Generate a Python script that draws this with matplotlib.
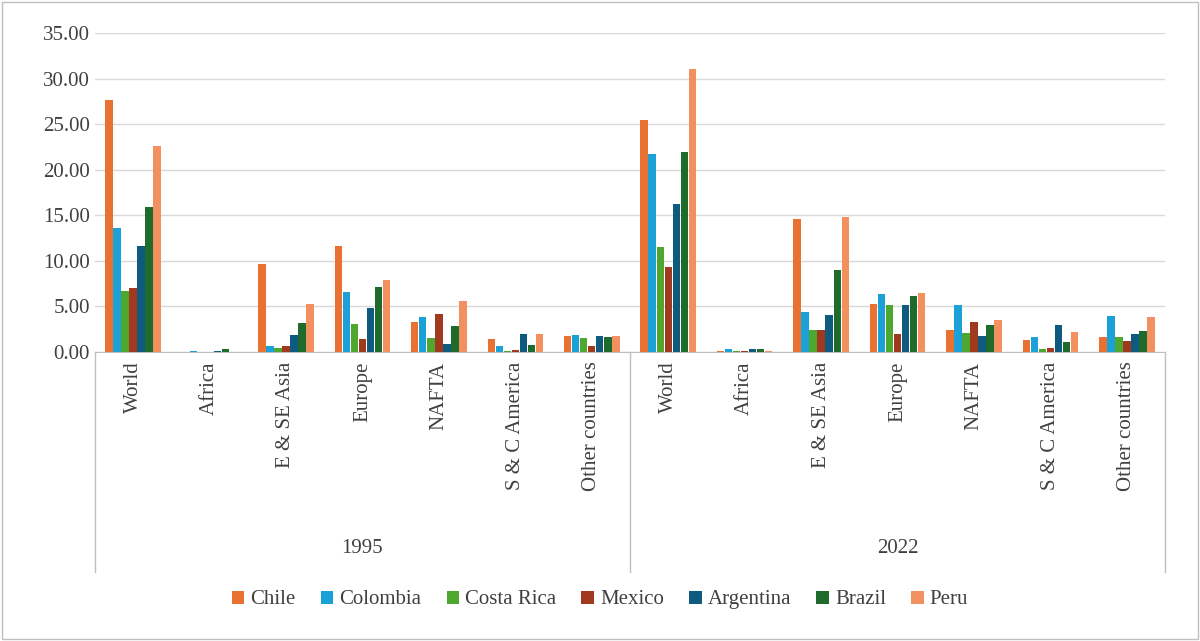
import matplotlib
matplotlib.use("Agg")
import matplotlib.pyplot as plt
import numpy as np
from matplotlib.patches import Rectangle

plt.rcParams['font.family'] = ['Liberation Serif', 'DejaVu Serif']

years = ['1995', '2022']
regions = ['World', 'Africa', 'E & SE Asia', 'Europe', 'NAFTA', 'S & C America', 'Other countries']
countries = ['Chile', 'Colombia', 'Costa Rica', 'Mexico', 'Argentina', 'Brazil', 'Peru']
colors = ['#E97132', '#1BA1D8', '#4EA72E', '#A0391E', '#0F5A7F', '#1E6B2C', '#F2915F']

# rows: regions (1995 then 2022), cols: countries
chile      = [27.7, 0.0, 9.7, 11.6, 3.3, 1.4, 1.7, 25.4, 0.1, 14.6, 5.3, 2.4, 1.3, 1.6]
colombia   = [13.6, 0.1, 0.6, 6.6, 3.8, 0.7, 1.9, 21.7, 0.3, 4.4, 6.4, 5.2, 1.6, 3.9]
costa_rica = [6.7, 0.0, 0.4, 3.1, 1.5, 0.05, 1.5, 11.5, 0.05, 2.4, 5.1, 2.1, 0.3, 1.6]
mexico     = [7.0, 0.0, 0.6, 1.4, 4.2, 0.2, 0.6, 9.3, 0.05, 2.4, 2.0, 3.3, 0.4, 1.2]
argentina  = [11.6, 0.1, 1.9, 4.8, 0.9, 2.0, 1.8, 16.2, 0.3, 4.0, 5.1, 1.7, 2.9, 2.0]
brazil     = [15.9, 0.3, 3.2, 7.1, 2.8, 0.8, 1.6, 21.9, 0.3, 9.0, 6.1, 3.0, 1.1, 2.3]
peru       = [22.6, 0.0, 5.3, 7.9, 5.6, 2.0, 1.8, 31.0, 0.1, 14.8, 6.5, 3.5, 2.2, 3.8]
series = [chile, colombia, costa_rica, mexico, argentina, brazil, peru]

fig = plt.figure(figsize=(12, 6.41), dpi=100)
ax = fig.add_axes([0.079, 0.451, 0.892, 0.4975])
fig.patches.append(Rectangle((0.002, 0.003), 0.996, 0.994, transform=fig.transFigure,
                             fill=False, edgecolor='#BFBFBF', lw=1))

n = len(regions) * len(years)
x = np.arange(n)
w = 0.105
for i, (name, vals, c) in enumerate(zip(countries, series, colors)):
    ax.bar(x + (i - 3) * w, vals, w * 0.92, color=c, label=name, zorder=3)

ax.set_xlim(-0.5, n - 0.5)
ax.set_ylim(0, 35)
ax.set_yticks(np.arange(0, 36, 5))
ax.set_yticklabels([f'{v:.2f}' for v in np.arange(0, 36, 5)], fontsize=15, color='#404040')
ax.yaxis.grid(True, color='#D9D9D9', lw=1)
ax.set_xticks([])
ax.tick_params(axis='y', length=0)
for s in ['top', 'right', 'left']:
    ax.spines[s].set_visible(False)
ax.spines['bottom'].set_color('#BFBFBF')

tr = ax.get_xaxis_transform()
for k, r in enumerate(regions * 2):
    ax.text(k, -0.03, r, rotation=90, ha='center', va='top', fontsize=15,
            color='#404040', transform=tr)
for xd in [-0.5, 6.5, 13.5]:
    ax.plot([xd, xd], [0, -0.69], transform=tr, clip_on=False, color='#BFBFBF', lw=1)
for g, yr in enumerate(years):
    ax.text(g * 7 + 3, -0.615, yr, ha='center', va='center', fontsize=15,
            color='#404040', transform=tr)

fig.legend(loc='center', bbox_to_anchor=(0.5, 0.064), ncol=7, frameon=False,
           fontsize=15, handlelength=0.6, handleheight=0.6, columnspacing=1.2,
           handletextpad=0.3, labelcolor='#404040')

fig.savefig('out.png', dpi=100)
